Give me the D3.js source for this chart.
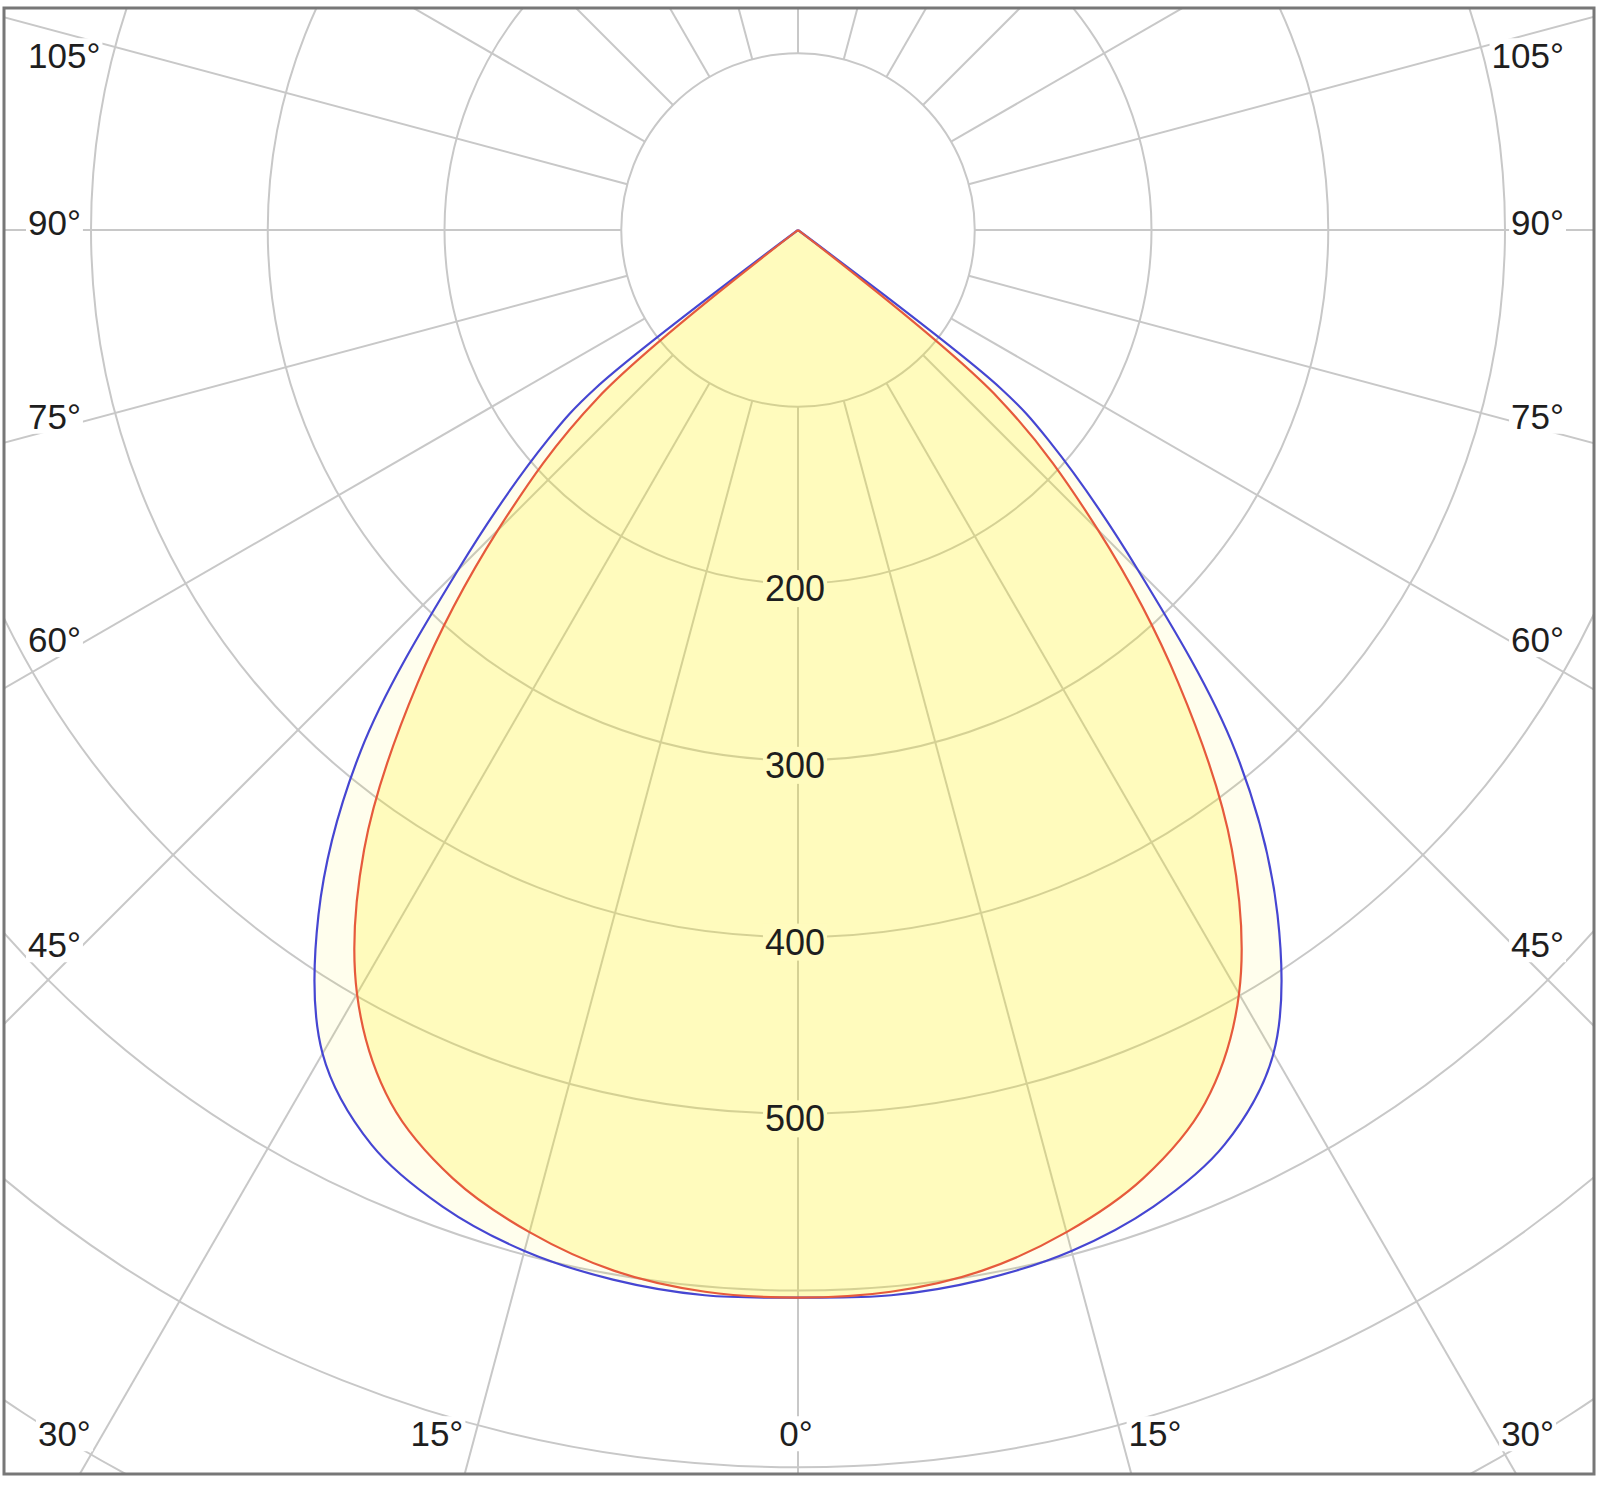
<!DOCTYPE html>
<html>
<head>
<meta charset="utf-8">
<title>Polar light distribution</title>
<script src="https://cdn.jsdelivr.net/npm/d3@7"></script>
<style>
    html, body { margin: 0; padding: 0; background: #fff; }
    svg { display: block; }
    text { font-family: "Liberation Sans", Arial, sans-serif; fill: #1e1e1e; }
</style>
</head>
<body>
<div id="chart"></div>
<script>
    // gamma angles (deg from nadir) and luminous intensity (cd)
    var gammaAngles = [0, 5, 10, 15, 20, 25, 30, 35, 40, 45, 50, 52, 55, 60, 65, 70, 75, 80, 85, 90];
    var planeBlue   = [604, 605, 603, 598, 588, 571, 538, 473, 385, 272, 185, 145, 0, 0, 0, 0, 0, 0, 0, 0];
    var planeRed    = [604, 603, 598, 587, 571, 545, 499, 428, 335, 240, 148, 0, 0, 0, 0, 0, 0, 0, 0, 0];

    var ringValues  = [100, 200, 300, 400, 500, 600, 700, 800];
    var ringLabels  = [200, 300, 400, 500];
    var sideLabels  = [45, 60, 75, 90, 105];
    var bottomLabels = [0, 15, 30];

    var width = 1600, height = 1489;
    var cx = 798, cy = 230;
    var frame = {x0: 4, y0: 8, x1: 1594, y1: 1474};

    var rScale = d3.scaleLinear().domain([0, 800]).range([0, 1414]);

    var svg = d3.select('#chart').append('svg')
        .attr('width', width)
        .attr('height', height);

    svg.append('clipPath').attr('id', 'frameClip')
        .append('rect')
        .attr('x', frame.x0).attr('y', frame.y0)
        .attr('width', frame.x1 - frame.x0).attr('height', frame.y1 - frame.y0);

    var plot = svg.append('g').attr('clip-path', 'url(#frameClip)');
    var grid = plot.append('g').attr('transform', 'translate(' + cx + ',' + cy + ')');

    // rings
    grid.selectAll('circle.ring')
        .data(ringValues)
        .enter().append('circle')
        .attr('class', 'ring')
        .attr('r', function(d) { return rScale(d); })
        .style('fill', 'none')
        .style('stroke', '#c8c8c8')
        .style('stroke-width', 2);

    // spokes every 15 deg, starting at first ring
    var toRad = Math.PI / 180;
    grid.selectAll('line.spoke')
        .data(d3.range(0, 360, 15))
        .enter().append('line')
        .attr('class', 'spoke')
        .attr('x1', function(d) { return rScale(100) * Math.sin(d * toRad); })
        .attr('y1', function(d) { return rScale(100) * Math.cos(d * toRad); })
        .attr('x2', function(d) { return rScale(1000) * Math.sin(d * toRad); })
        .attr('y2', function(d) { return rScale(1000) * Math.cos(d * toRad); })
        .style('stroke', '#c8c8c8')
        .style('stroke-width', 2);

    // label helper: text with a box behind it
    function addLabel(parent, x, y, txt, anchor, size, bg) {
        var lg = parent.append('g');
        var rect = lg.append('rect').style('fill', bg || '#fff');
        var t = lg.append('text')
            .attr('x', x).attr('y', y)
            .attr('dy', '0.35em')
            .attr('text-anchor', anchor)
            .style('font-size', size + 'px')
            .text(txt);
        var bb = t.node().getBBox();
        rect.attr('x', bb.x - 2).attr('y', bb.y + 2)
            .attr('width', bb.width + 4).attr('height', bb.height - 4);
    }

    var labels = plot.append('g');

    // side angle labels (left and right)
    var sideDist = 722;
    sideLabels.forEach(function(a) {
        var y = cy + sideDist / Math.tan(a * toRad) - 7;
        y = Math.max(y, 56);
        addLabel(labels, 28, y, a + '°', 'start', 35);
        addLabel(labels, 1564, y, a + '°', 'end', 35);
    });

    // bottom angle labels
    var bottomY = 1434;
    bottomLabels.forEach(function(a) {
        var off = (bottomY - cy) * Math.tan(a * toRad);
        if (a === 0) {
            addLabel(labels, cx - 2, bottomY, a + '°', 'middle', 35);
        } else {
            addLabel(labels, cx - off - 12, bottomY, a + '°', 'end', 35);
            addLabel(labels, cx + off + 8, bottomY, a + '°', 'start', 35);
        }
    });

    // curves: left half mirrors right half
    function buildPoints(values) {
        var pts = [];
        for (var i = gammaAngles.length - 1; i >= 0; i--) pts.push({a: -gammaAngles[i], v: values[i]});
        for (var j = 1; j < gammaAngles.length; j++) pts.push({a: gammaAngles[j], v: values[j]});
        return pts;
    }

    var radial = d3.lineRadial()
        .angle(function(d) { return Math.PI - d.a * toRad; })
        .radius(function(d) { return rScale(d.v); })
        .curve(d3.curveCatmullRom.alpha(0.5));

    // translucent fills go over the grid
    var curves = plot.append('g').attr('transform', 'translate(' + cx + ',' + cy + ')');
    curves.append('path')
        .attr('d', radial(buildPoints(planeBlue)) + 'Z')
        .style('fill', 'rgba(255,238,0,0.07)')
        .style('stroke', 'none');
    curves.append('path')
        .attr('d', radial(buildPoints(planeRed)) + 'Z')
        .style('fill', 'rgba(255,238,0,0.2)')
        .style('stroke', 'none');
    curves.append('path')
        .attr('d', radial(buildPoints(planeBlue)))
        .style('fill', 'none')
        .style('stroke', '#4646d2')
        .style('stroke-width', 2.2);
    curves.append('path')
        .attr('d', radial(buildPoints(planeRed)))
        .style('fill', 'none')
        .style('stroke', '#e65a3c')
        .style('stroke-width', 2.2);

    // intensity labels along nadir, boxed in the fill colour
    var valueLabels = plot.append('g');
    ringLabels.forEach(function(v) {
        addLabel(valueLabels, cx - 3, cy + rScale(v) + 5, v, 'middle', 36, 'rgb(255,251,190)');
    });

    // frame
    svg.append('rect')
        .attr('x', frame.x0).attr('y', frame.y0)
        .attr('width', frame.x1 - frame.x0).attr('height', frame.y1 - frame.y0)
        .style('fill', 'none')
        .style('stroke', '#777')
        .style('stroke-width', 3);
</script>
</body>
</html>
